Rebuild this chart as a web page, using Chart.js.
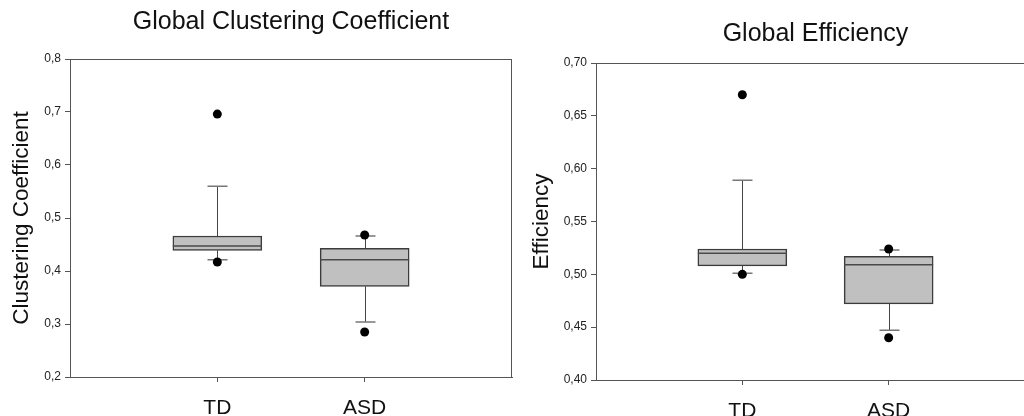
<!DOCTYPE html>
<html>
<head>
<meta charset="utf-8">
<script src="https://cdn.jsdelivr.net/npm/chart.js@4.4.1/dist/chart.umd.min.js"></script>
<style>
  html, body { margin: 0; padding: 0; background: #fff; overflow: hidden; width: 1024px; height: 416px; }
  .panel { position: absolute; top: 0; height: 416px; width: 520px; }
  #left { left: 0; }
  #right { left: 520px; }
</style>
</head>
<body>
<div class="panel" id="left"><canvas id="ccChart"></canvas></div>
<div class="panel" id="right"><canvas id="efChart"></canvas></div>
<script>
const groups = ['TD', 'ASD'];
const groupPos = [1, 2];

// Global clustering coefficient, per group
const ccLow = [0.421, 0.304];
const ccQ1 = [0.439, 0.371];
const ccMedian = [0.447, 0.421];
const ccQ3 = [0.466, 0.443];
const ccHigh = [0.560, 0.466];
const ccOutliers = [[0.696, 0.417], [0.468, 0.285]];

// Global efficiency, per group
const efLow = [0.501, 0.447];
const efQ1 = [0.508, 0.472];
const efMedian = [0.520, 0.509];
const efQ3 = [0.524, 0.517];
const efHigh = [0.589, 0.523];
const efOutliers = [[0.670, 0.500], [0.524, 0.440]];

const FONT = 'Liberation Sans, Arial, sans-serif';

// whiskers, caps, medians and the top/right frame
const boxExtras = {
    id: 'boxExtras',
    beforeDatasetsDraw(chart, args, opts) {
        const { ctx, chartArea: a, scales: { x, y } } = chart;
        ctx.save();
        ctx.strokeStyle = '#555';
        ctx.lineWidth = 1;
        ctx.beginPath();
        ctx.moveTo(a.left, Math.round(a.top) + 0.5);
        ctx.lineTo(a.right, Math.round(a.top) + 0.5);
        ctx.moveTo(Math.round(a.right) - 0.5, a.top);
        ctx.lineTo(Math.round(a.right) - 0.5, a.bottom);
        ctx.stroke();

        opts.low.forEach((lo, i) => {
            const cx = Math.round(x.getPixelForValue(groupPos[i])) + 0.5;
            ctx.strokeStyle = '#444';
            ctx.lineWidth = 1;
            ctx.beginPath();
            ctx.moveTo(cx, y.getPixelForValue(opts.high[i]));
            ctx.lineTo(cx, y.getPixelForValue(opts.q3[i]));
            ctx.moveTo(cx, y.getPixelForValue(opts.q1[i]));
            ctx.lineTo(cx, y.getPixelForValue(lo));
            ctx.stroke();
            ctx.strokeStyle = '#777';
            ctx.lineWidth = 1.5;
            ctx.beginPath();
            [lo, opts.high[i]].forEach(v => {
                const py = y.getPixelForValue(v);
                ctx.moveTo(cx - 10, py);
                ctx.lineTo(cx + 10, py);
            });
            ctx.stroke();
        });
        ctx.restore();
    },
    afterDatasetsDraw(chart, args, opts) {
        const { ctx, scales: { x, y } } = chart;
        const half = opts.boxWidth / 2;
        ctx.save();
        ctx.strokeStyle = '#4a4a4a';
        ctx.lineWidth = 1.5;
        opts.median.forEach((m, i) => {
            const cx = x.getPixelForValue(groupPos[i]);
            const py = y.getPixelForValue(m);
            ctx.beginPath();
            ctx.moveTo(cx - half, py);
            ctx.lineTo(cx + half, py);
            ctx.stroke();
        });
        ctx.restore();
    }
};

function makeBoxChart(id, cfg) {
    const outlierPoints = [];
    cfg.outliers.forEach((list, i) => list.forEach(v => outlierPoints.push({ x: groupPos[i], y: v })));

    return new Chart(document.getElementById(id), {
        type: 'bar',
        data: {
            datasets: [
                {
                    type: 'scatter',
                    data: outlierPoints,
                    pointRadius: 4.5,
                    backgroundColor: '#000',
                    borderWidth: 0,
                    order: 0
                },
                {
                    data: groupPos.map((p, i) => ({ x: p, y: [cfg.q1[i], cfg.q3[i]] })),
                    backgroundColor: '#c0c0c0',
                    borderColor: '#3c3c3c',
                    borderWidth: 1.5,
                    borderSkipped: false,
                    barThickness: cfg.boxWidth,
                    order: 1
                }
            ]
        },
        options: {
            responsive: true,
            maintainAspectRatio: false,
            animation: false,
            layout: { padding: { left: 0, right: cfg.padRight, top: 0, bottom: 0 } },
            plugins: {
                legend: { display: false },
                tooltip: { enabled: false },
                title: {
                    display: true,
                    text: cfg.title,
                    fullSize: false,
                    color: '#111',
                    font: { family: FONT, size: 25, weight: 'normal' },
                    padding: cfg.titlePad
                },
                boxExtras: {
                    low: cfg.low, q1: cfg.q1, median: cfg.median, q3: cfg.q3, high: cfg.high,
                    boxWidth: cfg.boxWidth
                }
            },
            scales: {
                x: {
                    type: 'linear',
                    min: 0,
                    max: 3,
                    offset: false,
                    afterBuildTicks: axis => { axis.ticks = groupPos.map(v => ({ value: v })); },
                    afterFit: axis => { axis.height = cfg.xAxisHeight; },
                    grid: { drawOnChartArea: false, offset: false, tickLength: 5, color: '#555' },
                    border: { color: '#555' },
                    ticks: {
                        padding: 14,
                        color: '#111',
                        font: { family: FONT, size: 21 },
                        callback: v => groups[groupPos.indexOf(v)] || ''
                    }
                },
                y: {
                    min: cfg.yMin,
                    max: cfg.yMax,
                    afterFit: axis => { axis.width = cfg.yAxisWidth; },
                    grid: { drawOnChartArea: false, tickLength: 5, color: '#555' },
                    border: { color: '#555' },
                    ticks: {
                        stepSize: cfg.yStep,
                        padding: 4,
                        color: '#222',
                        font: { family: FONT, size: 12 },
                        callback: v => v.toFixed(cfg.decimals).replace('.', ',')
                    },
                    title: {
                        display: true,
                        text: cfg.yTitle,
                        color: '#111',
                        font: { family: FONT, size: 22.5 },
                        padding: { top: 8, bottom: 0 }
                    }
                }
            }
        },
        plugins: [boxExtras]
    });
}

makeBoxChart('ccChart', {
    title: 'Global Clustering Coefficient',
    yTitle: 'Clustering Coefficient',
    low: ccLow, q1: ccQ1, median: ccMedian, q3: ccQ3, high: ccHigh, outliers: ccOutliers,
    yMin: 0.2, yMax: 0.8, yStep: 0.1, decimals: 1,
    boxWidth: 89,
    padRight: 8,
    yAxisWidth: 70,
    xAxisHeight: 39,
    titlePad: { top: 7, bottom: 22 }
});

makeBoxChart('efChart', {
    title: 'Global Efficiency',
    yTitle: 'Efficiency',
    low: efLow, q1: efQ1, median: efMedian, q3: efQ3, high: efHigh, outliers: efOutliers,
    yMin: 0.4, yMax: 0.7, yStep: 0.05, decimals: 2,
    boxWidth: 89,
    padRight: 5,
    yAxisWidth: 76,
    xAxisHeight: 36,
    titlePad: { top: 19, bottom: 14 }
});
</script>
</body>
</html>
